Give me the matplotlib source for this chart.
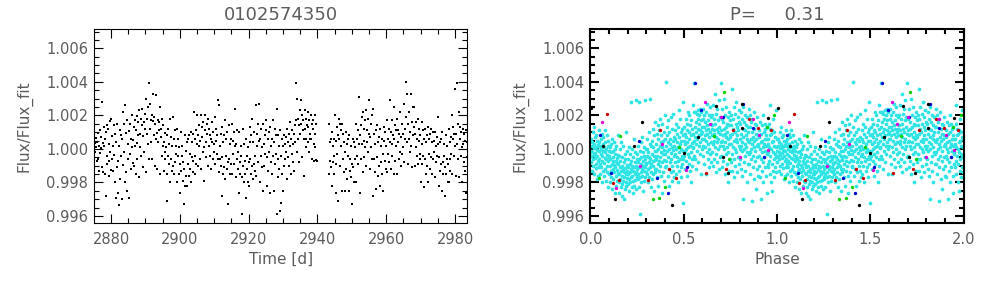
import sys
import matplotlib
matplotlib.use("Agg")
import matplotlib.pyplot as plt
import numpy as np
from matplotlib.ticker import MultipleLocator, FormatStrFormatter

# ---------------- data ----------------
title_left = "0102574350"
title_right = "P=     0.31"

# Left panel: time [d] and flux deviation (units of 1e-5, flux = 1 + v*1e-5)
time_left = [
    2875.12, 2875.26, 2875.40, 2875.54, 2875.68, 2875.82, 2875.96,
    2876.12, 2876.26, 2876.40, 2876.54, 2876.68, 2876.82, 2876.96,
    2877.12, 2877.26, 2877.40, 2877.54, 2877.68, 2877.82, 2877.96,
    2878.12, 2878.26, 2878.40, 2878.54, 2878.68, 2878.82, 2878.96,
    2879.12, 2879.26, 2879.40, 2879.54, 2879.68, 2879.82, 2879.96,
    2880.12, 2880.26, 2880.40, 2880.54, 2880.68, 2880.82, 2880.96,
    2881.12, 2881.26, 2881.40, 2881.54, 2881.68, 2881.82, 2881.96,
    2882.12, 2882.26, 2882.40, 2882.54, 2882.68, 2882.82, 2882.96,
    2883.12, 2883.26, 2883.40, 2883.54, 2883.68, 2883.82, 2883.96,
    2884.12, 2884.26, 2884.40, 2884.54, 2884.68, 2884.82, 2884.96,
    2885.12, 2885.26, 2885.40, 2885.54, 2885.68, 2885.82, 2885.96,
    2886.12, 2886.26, 2886.40, 2886.54, 2886.68, 2886.82, 2886.96,
    2887.12, 2887.26, 2887.40, 2887.54, 2887.68, 2887.82, 2887.96,
    2888.12, 2888.26, 2888.40, 2888.54, 2888.68, 2888.82, 2888.96,
    2889.12, 2889.26, 2889.40, 2889.54, 2889.68, 2889.82, 2889.96,
    2890.12, 2890.26, 2890.40, 2890.54, 2890.68, 2890.82, 2890.96,
    2891.12, 2891.26, 2891.40, 2891.54, 2891.68, 2891.82, 2891.96,
    2892.12, 2892.26, 2892.40, 2892.54, 2892.68, 2892.82, 2892.96,
    2893.12, 2893.26, 2893.40, 2893.54, 2893.68, 2893.82, 2893.96,
    2894.12, 2894.26, 2894.40, 2894.54, 2894.68, 2894.82, 2894.96,
    2895.12, 2895.26, 2895.40, 2895.54, 2895.68, 2895.82, 2895.96,
    2896.12, 2896.26, 2896.40, 2896.54, 2896.68, 2896.82, 2896.96,
    2897.12, 2897.26, 2897.40, 2897.54, 2897.68, 2897.82, 2897.96,
    2898.12, 2898.26, 2898.40, 2898.54, 2898.68, 2898.82, 2898.96,
    2899.12, 2899.26, 2899.40, 2899.54, 2899.68, 2899.82, 2899.96,
    2900.12, 2900.26, 2900.40, 2900.54, 2900.68, 2900.82, 2900.96,
    2901.12, 2901.26, 2901.40, 2901.54, 2901.68, 2901.82, 2901.96,
    2902.12, 2902.26, 2902.40, 2902.54, 2902.68, 2902.82, 2902.96,
    2903.12, 2903.26, 2903.40, 2903.54, 2903.68, 2903.82, 2903.96,
    2904.12, 2904.26, 2904.40, 2904.54, 2904.68, 2904.82, 2904.96,
    2905.12, 2905.26, 2905.40, 2905.54, 2905.68, 2905.82, 2905.96,
    2906.12, 2906.26, 2906.40, 2906.54, 2906.68, 2906.82, 2906.96,
    2907.12, 2907.26, 2907.40, 2907.54, 2907.68, 2907.82, 2907.96,
    2908.12, 2908.26, 2908.40, 2908.54, 2908.68, 2908.82, 2908.96,
    2909.12, 2909.26, 2909.40, 2909.54, 2909.68, 2909.82, 2909.96,
    2910.12, 2910.26, 2910.40, 2910.54, 2910.68, 2910.82, 2910.96,
    2911.12, 2911.26, 2911.40, 2911.54, 2911.68, 2911.82, 2911.96,
    2912.12, 2912.26, 2912.40, 2912.54, 2912.68, 2912.82, 2912.96,
    2913.12, 2913.26, 2913.40, 2913.54, 2913.68, 2913.82, 2913.96,
    2914.12, 2914.26, 2914.40, 2914.54, 2914.68, 2914.82, 2914.96,
    2915.12, 2915.26, 2915.40, 2915.54, 2915.68, 2915.82, 2915.96,
    2916.12, 2916.26, 2916.40, 2916.54, 2916.68, 2916.82, 2916.96,
    2917.12, 2917.26, 2917.40, 2917.54, 2917.68, 2917.82, 2917.96,
    2918.12, 2918.26, 2918.40, 2918.54, 2918.68, 2918.82, 2918.96,
    2919.12, 2919.26, 2919.40, 2919.54, 2919.68, 2919.82, 2919.96,
    2920.12, 2920.26, 2920.40, 2920.54, 2920.68, 2920.82, 2920.96,
    2921.12, 2921.26, 2921.40, 2921.54, 2921.68, 2921.82, 2921.96,
    2922.12, 2922.26, 2922.40, 2922.54, 2922.68, 2922.82, 2922.96,
    2923.12, 2923.26, 2923.40, 2923.54, 2923.68, 2923.82, 2923.96,
    2924.12, 2924.26, 2924.40, 2924.54, 2924.68, 2924.82, 2924.96,
    2925.12, 2925.26, 2925.40, 2925.54, 2925.68, 2925.82, 2925.96,
    2926.12, 2926.26, 2926.40, 2926.54, 2926.68, 2926.82, 2926.96,
    2927.12, 2927.26, 2927.40, 2927.54, 2927.68, 2927.82, 2927.96,
    2928.12, 2928.26, 2928.40, 2928.54, 2928.68, 2928.82, 2928.96,
    2929.12, 2929.26, 2929.40, 2929.54, 2929.68, 2929.82, 2929.96,
    2930.12, 2930.26, 2930.40, 2930.54, 2930.68, 2930.82, 2930.96,
    2931.12, 2931.26, 2931.40, 2931.54, 2931.68, 2931.82, 2931.96,
    2932.12, 2932.26, 2932.40, 2932.54, 2932.68, 2932.82, 2932.96,
    2933.12, 2933.26, 2933.40, 2933.54, 2933.68, 2933.82, 2933.96,
    2934.12, 2934.26, 2934.40, 2934.54, 2934.68, 2934.82, 2934.96,
    2935.12, 2935.26, 2935.40, 2935.54, 2935.68, 2935.82, 2935.96,
    2936.12, 2936.26, 2936.40, 2936.54, 2936.68, 2936.82, 2936.96,
    2937.12, 2937.26, 2937.40, 2937.54, 2937.68, 2937.82, 2937.96,
    2938.12, 2938.26, 2938.40, 2938.54, 2938.68, 2938.82, 2938.96,
    2939.05, 2939.17, 2939.29, 2939.41, 2939.53, 2939.65, 2939.77,
    2943.26, 2943.40, 2943.54, 2943.68, 2943.82, 2943.96,
    2944.12, 2944.26, 2944.40, 2944.54, 2944.68, 2944.82, 2944.96,
    2945.12, 2945.26, 2945.40, 2945.54, 2945.68, 2945.82, 2945.96,
    2946.12, 2946.26, 2946.40, 2946.54, 2946.68, 2946.82, 2946.96,
    2947.12, 2947.26, 2947.40, 2947.54, 2947.68, 2947.82, 2947.96,
    2948.12, 2948.26, 2948.40, 2948.54, 2948.68, 2948.82, 2948.96,
    2949.12, 2949.26, 2949.40, 2949.54, 2949.68, 2949.82, 2949.96,
    2950.12, 2950.26, 2950.40, 2950.54, 2950.68, 2950.82, 2950.96,
    2951.12, 2951.26, 2951.40, 2951.54, 2951.68, 2951.82, 2951.96,
    2952.12, 2952.26, 2952.40, 2952.54, 2952.68, 2952.82, 2952.96,
    2953.12, 2953.26, 2953.40, 2953.54, 2953.68, 2953.82, 2953.96,
    2954.12, 2954.26, 2954.40, 2954.54, 2954.68, 2954.82, 2954.96,
    2955.12, 2955.26, 2955.40, 2955.54, 2955.68, 2955.82, 2955.96,
    2956.12, 2956.26, 2956.40, 2956.54, 2956.68, 2956.82, 2956.96,
    2957.12, 2957.26, 2957.40, 2957.54, 2957.68, 2957.82, 2957.96,
    2958.12, 2958.26, 2958.40, 2958.54, 2958.68, 2958.82, 2958.96,
    2959.12, 2959.26, 2959.40, 2959.54, 2959.68, 2959.82, 2959.96,
    2960.12, 2960.26, 2960.40, 2960.54, 2960.68, 2960.82, 2960.96,
    2961.12, 2961.26, 2961.40, 2961.54, 2961.68, 2961.82, 2961.96,
    2962.12, 2962.26, 2962.40, 2962.54, 2962.68, 2962.82, 2962.96,
    2963.12, 2963.26, 2963.40, 2963.54, 2963.68, 2963.82, 2963.96,
    2964.12, 2964.26, 2964.40, 2964.54, 2964.68, 2964.82, 2964.96,
    2965.12, 2965.26, 2965.40, 2965.54, 2965.68, 2965.82, 2965.96,
    2966.12, 2966.26, 2966.40, 2966.54, 2966.68, 2966.82, 2966.96,
    2967.12, 2967.26, 2967.40, 2967.54, 2967.68, 2967.82, 2967.96,
    2968.12, 2968.26, 2968.40, 2968.54, 2968.68, 2968.82, 2968.96,
    2969.12, 2969.26, 2969.40, 2969.54, 2969.68, 2969.82, 2969.96,
    2970.12, 2970.26, 2970.40, 2970.54, 2970.68, 2970.82, 2970.96,
    2971.12, 2971.26, 2971.40, 2971.54, 2971.68, 2971.82, 2971.96,
    2972.12, 2972.26, 2972.40, 2972.54, 2972.68, 2972.82, 2972.96,
    2973.12, 2973.26, 2973.40, 2973.54, 2973.68, 2973.82, 2973.96,
    2974.12, 2974.26, 2974.40, 2974.54, 2974.68, 2974.82, 2974.96,
    2975.12, 2975.26, 2975.40, 2975.54, 2975.68, 2975.82, 2975.96,
    2976.12, 2976.26, 2976.40, 2976.54, 2976.68, 2976.82, 2976.96,
    2977.12, 2977.26, 2977.40, 2977.54, 2977.68, 2977.82, 2977.96,
    2978.12, 2978.26, 2978.40, 2978.54, 2978.68, 2978.82, 2978.96,
    2979.12, 2979.26, 2979.40, 2979.54, 2979.68, 2979.82, 2979.96,
    2980.12, 2980.26, 2980.40, 2980.54, 2980.68, 2980.82, 2980.96,
    2981.12, 2981.26, 2981.40, 2981.54, 2981.68, 2981.82, 2981.96,
    2982.12, 2982.26, 2982.40, 2982.54, 2982.68, 2982.82, 2982.96,
    2983.12, 2983.26, 2983.40, 2983.54, 2983.68, 2983.82, 2983.96,
]
flux_left_e5 = [
    52, 38, -20, 65, 10, -75, 40,
    -60, 95, 20, -130, 110, -25, 5,
    70, -110, 280, 35, -140, 130, 15,
    -150, 60, -280, 100, -40, 145, -90,
    120, -160, 30, -70, 165, -20, -125,
    180, -60, 75, -130, 15, 140, -35,
    -200, 90, -290, 40, -110, 150, -75,
    -260, 20, -332, 115, -180, -45, 80,
    -300, 60, 220, -95, 150, -20, -200,
    260, -140, 95, -250, 170, 30, -60,
    -290, 105, -30, 150, -120, 60, 10,
    200, -85, 55, 130, -100, 20, 170,
    -150, 110, 195, 35, -60, 160, 80,
    230, -170, 90, 10, 180, -40, 140,
    240, -110, 75, 160, -20, 120, 210,
    300, -140, 90, 180, 30, 250, -60,
    390, 120, 270, 40, 175, -60, 200,
    165, 330, 80, 190, -100, 150, 60,
    320, 95, -120, 170, 40, 160, 110,
    250, -150, 70, 120, -40, 180, 20,
    140, -130, 40, -60, 95, -20, 10,
    -310, 80, -150, 120, -40, -90, 30,
    180, -200, -60, 70, -130, 20, -100,
    190, -150, 60, 110, -80, 20, -30,
    -200, 120, -40, 60, -150, 10, -90,
    -260, 100, -130, -40, 20, -190, -80,
    -330, -120, 80, -220, -10, -160, 40,
    -220, 60, -90, -160, 80, -30, -120,
    100, -200, -50, 40, -140, 90, -70,
    220, -150, 60, -40, 110, -90, 30,
    200, -100, 80, 20, 140, -60, 50,
    -120, 200, 70, 130, -20, 160, 10,
    -190, 110, 200, 40, -50, 90, 150,
    180, -100, 20, 120, -40, 80, 60,
    -120, 160, 40, -60, 100, -20, 30,
    190, -90, 50, 120, -30, 80, -60,
    290, -140, 260, 20, -60, 90, -100,
    -280, 130, -50, 40, -150, 80, -110,
    170, -180, -40, 60, -120, 100, -80,
    -330, 140, -60, -150, 30, -90, 60,
    150, -150, 50, -30, 100, -90, 20,
    240, -170, 30, -60, 110, -120, -20,
    -260, 100, -80, -150, 20, -40, -170,
    -390, 120, -100, -200, 30, -70, -150,
    -290, 60, -120, -40, -200, 10, -80,
    -220, 130, -60, 40, -150, 80, -100,
    180, -180, 40, -90, 100, -40, -130,
    260, -160, 90, 20, -80, 150, 50,
    270, -200, 60, -40, 120, -110, 10,
    -250, 150, 30, -100, 80, -30, 110,
    170, -220, -50, 60, -130, 100, -20,
    -260, 130, -80, 20, -150, 60, -40,
    170, -250, 40, -90, 120, -30, 80,
    240, -390, -60, 80, -170, 20, -120,
    -370, 110, -320, -40, 60, -150, 20,
    -250, 80, -100, 30, -60, 70, -20,
    120, -180, 40, -50, 90, -100, 20,
    160, -150, 60, -30, 110, 30, -80,
    90, -130, 140, 40, 390, 170, -20,
    300, 60, 180, -80, 140, 230, 90,
    150, 290, -50, 200, 110, 170, 60,
    -160, 230, 120, 60, 180, 10, 140,
    220, 40, 130, -20, 170, 90, 60,
    200, 60, 150, -60, 120, 170, 30,
    -70, 200, 90, 10, 150, -65, -75,
    -150, 150, -70, 40, -110, 60,
    -220, 100, -80, 20, -150, 60, -40,
    200, -260, 50, -90, 130, -30, 80,
    -310, 180, 60, -100, 150, 20, 110,
    -250, 150, -60, 90, -140, 40, -20,
    -250, 100, -120, 30, -180, -40, 60,
    -250, 80, -130, -60, 20, -170, -90,
    -330, 60, -110, -200, 40, -60, 10,
    150, -200, 60, -40, 110, -90, 30,
    310, -260, 80, 140, -60, 30, 190,
    220, -140, 50, 120, -50, 170, 10,
    230, -100, 110, 40, 180, -20, 90,
    290, -120, 70, 150, 10, 200, -60,
    -280, 240, -60, 90, -140, 30, 110,
    -240, 140, -50, 40, -160, 70, -100,
    -220, 120, -80, 20, -150, 60, -30,
    -250, 130, 50, -70, 100, -120, 20,
    170, -140, 60, -30, 120, -80, 40,
    290, -120, 100, 30, 170, -40, 80,
    250, -150, 60, 140, -70, 110, 20,
    180, -150, 40, 110, -60, 90, -20,
    220, -100, 70, 150, -30, 90, 10,
    270, -80, 120, 60, 190, 400, 40,
    330, -90, 150, 60, 220, 100, -20,
    330, 20, 160, -110, 250, 80, 130,
    250, -100, 90, 10, 160, -40, 60,
    180, -90, 50, 120, -30, 80, -60,
    -200, 160, 30, -90, 110, -40, 60,
    -230, 120, -60, 40, -150, 80, -100,
    -200, 130, -30, 60, -120, 90, -50,
    120, -150, 40, -60, 100, -20, 50,
    -170, 100, 20, -80, 70, -40, 30,
    190, -220, -50, 40, -130, 60, -90,
    -250, 100, -80, -150, 30, -40, -110,
    -280, 80, -150, -60, 20, -200, -90,
    -200, 120, -60, 40, -130, 70, -30,
    200, -150, 60, 130, -40, 90, 20,
    360, -160, 90, 390, 30, 150, -60,
    220, -170, 60, 130, -40, 100, 10,
    -200, 120, 30, -80, 90, -130, 50,
    -260, 110, -50, 40, -150, 60, -90,
]

# Right panel: phase (0-1) and flux deviation (1e-5 units), main (cyan) points
phase_main = [
    .001, .002, .004, .005, .007, .008, .010, .011, .013, .014, .015, .017, .018, .020, .021, .022, .024, .025,
    .027, .028, .029, .031, .032, .034, .035, .036, .038, .039, .041, .042, .043, .045, .046, .047, .048, .049,
    .051, .052, .054, .055, .056, .058, .059, .061, .062, .063, .065, .066, .068, .069, .070, .072, .073, .074,
    .076, .077, .079, .080, .081, .083, .084, .086, .087, .088, .090, .091, .093, .094, .095, .097, .098, .099,
    .100, .102, .103, .105, .106, .107, .109, .110, .112, .113, .114, .116, .117, .119, .120, .121, .123, .124,
    .126, .127, .128, .130, .131, .133, .134, .135, .137, .138, .140, .141, .142, .144, .145, .147, .148, .149,
    .150, .151, .153, .154, .156, .157, .158, .160, .161, .163, .164, .165, .167, .168, .170, .171, .172, .174,
    .175, .177, .178, .179, .181, .182, .184, .185, .186, .188, .189, .191, .192, .193, .195, .196, .198, .199,
    .200, .202, .203, .204, .206, .207, .209, .210, .211, .213, .214, .216, .217, .218, .220, .221, .223, .224,
    .225, .227, .228, .230, .231, .232, .234, .235, .237, .238, .239, .241, .242, .244, .245, .246, .248, .249,
    .250, .252, .253, .255, .256, .257, .259, .260, .262, .263, .264, .266, .267, .269, .270, .271, .273, .274,
    .276, .277, .278, .280, .281, .283, .284, .285, .287, .288, .290, .291, .292, .294, .295, .297, .298, .299,
    .300, .302, .303, .305, .306, .307, .309, .310, .312, .313, .314, .316, .317, .319, .320, .321, .323, .324,
    .326, .327, .328, .330, .331, .333, .334, .335, .337, .338, .340, .341, .342, .344, .345, .347, .348, .349,
    .350, .351, .353, .354, .356, .357, .358, .360, .361, .363, .364, .365, .367, .368, .370, .371, .372, .374,
    .375, .377, .378, .379, .381, .382, .384, .385, .386, .388, .389, .391, .392, .393, .395, .396, .398, .399,
    .400, .402, .403, .404, .406, .407, .409, .410, .411, .413, .414, .416, .417, .418, .420, .421, .423, .424,
    .425, .427, .428, .430, .431, .432, .434, .435, .437, .438, .439, .441, .442, .444, .445, .446, .448, .449,
    .450, .452, .453, .455, .456, .457, .459, .460, .462, .463, .464, .466, .467, .469, .470, .471, .473, .474,
    .476, .477, .478, .480, .481, .483, .484, .485, .487, .488, .490, .491, .492, .494, .495, .497, .498, .499,
    .500, .502, .503, .505, .506, .507, .509, .510, .512, .513, .514, .516, .517, .519, .520, .521, .523, .524,
    .526, .527, .528, .530, .531, .533, .534, .535, .537, .538, .540, .541, .542, .544, .545, .547, .548, .549,
    .550, .552, .553, .554, .556, .557, .559, .560, .561, .563, .564, .566, .567, .568, .570, .571, .573, .574,
    .575, .577, .578, .580, .581, .582, .584, .585, .587, .588, .589, .591, .592, .594, .595, .596, .598, .599,
    .600, .602, .603, .604, .606, .607, .609, .610, .611, .613, .614, .616, .617, .618, .620, .621, .623, .624,
    .625, .627, .628, .630, .631, .632, .634, .635, .637, .638, .639, .641, .642, .644, .645, .646, .648, .649,
    .650, .651, .653, .654, .656, .657, .658, .660, .661, .663, .664, .665, .667, .668, .670, .671, .672, .674,
    .675, .677, .678, .679, .681, .682, .684, .685, .686, .688, .689, .691, .692, .693, .695, .696, .698, .699,
    .700, .702, .703, .705, .706, .707, .709, .710, .712, .713, .714, .716, .717, .719, .720, .721, .723, .724,
    .726, .727, .728, .730, .731, .733, .734, .735, .737, .738, .740, .741, .742, .744, .745, .747, .748, .749,
    .750, .752, .753, .754, .756, .757, .759, .760, .761, .763, .764, .766, .767, .768, .770, .771, .773, .774,
    .775, .777, .778, .780, .781, .782, .784, .785, .787, .788, .789, .791, .792, .794, .795, .796, .798, .799,
    .800, .802, .803, .805, .806, .807, .809, .810, .812, .813, .814, .816, .817, .819, .820, .821, .823, .824,
    .826, .827, .828, .830, .831, .833, .834, .835, .837, .838, .840, .841, .842, .844, .845, .847, .848, .849,
    .850, .851, .853, .854, .856, .857, .858, .860, .861, .863, .864, .865, .867, .868, .870, .871, .872, .874,
    .875, .877, .878, .879, .881, .882, .884, .885, .886, .888, .889, .891, .892, .893, .895, .896, .898, .899,
    .900, .902, .903, .905, .906, .907, .909, .910, .912, .913, .914, .916, .917, .919, .920, .921, .923, .924,
    .926, .927, .928, .930, .931, .933, .934, .935, .937, .938, .940, .941, .942, .944, .945, .947, .948, .949,
    .950, .951, .953, .954, .956, .957, .958, .960, .961, .963, .964, .965, .967, .968, .970, .971, .972, .974,
    .975, .977, .978, .979, .981, .982, .984, .985, .986, .988, .989, .991, .992, .993, .995, .996, .998, .999,
]
flux_main_e5 = [
    -10, -80, 60, -40, 20, -130, -20, 40, -60, 100, -100, 5, -35, 130, -150, 30, -55, 70,
    -25, -90, 10, 85, -115, -5, -180, 50, -45, 20, -70, 25, -160, -15, 40, -105, 110, -60,
    -90, 20, -150, -30, 60, -110, 0, -70, 90, -200, -45, 30, -130, -10, 70, -85, -160, 10,
    -55, 110, -120, -20, 40, -190, -60, 0, -100, 80, -35, -140, 20, -75, 50, -230, -15, -50,
    -40, -150, 10, -100, -200, -60, 30, -130, -20, -170, -90, 60, -240, -75, -120, -10, -180, -50,
    40, -140, -95, -260, -30, -110, 0, -160, -70, -220, 20, -125, -55, -190, -85, 80, -145, -35,
    -90, -200, -40, -150, -260, -110, 0, -180, -70, -230, -130, 40, -280, -100, -160, -50, -210, -120,
    20, -190, -140, -300, -80, -170, -30, -240, -115, -60, -200, -150, 100, -220, -95, -10, -175, -130,
    -150, -60, -210, -110, 10, -180, -250, -90, -140, -30, -200, 280, -120, -170, -70, -230, -100, -160,
    0, -260, -130, -50, -190, -110, 60, -220, -80, -150, -20, -185, 290, -135, -240, -100, -60, -170,
    -120, -30, -180, -80, 20, -150, -230, -60, 280, -110, -10, -170, -390, -90, -140, 40, -200, -50,
    -120, 70, -160, -20, -100, -250, -75, 10, -130, -190, -40, 290, -105, -165, -60, 0, -140, -85,
    -90, 0, -150, -40, 60, -120, -200, -20, -80, 100, -170, -50, 30, -110, 300, -60, -140, 20,
    -230, -90, 50, -30, -180, -70, 120, -100, 10, -150, -45, -250, 80, -120, -10, 160, -65, -135,
    -60, 30, -120, -10, 90, -170, -40, 60, -90, 140, -220, 0, -70, 110, -130, 20, -50, 180,
    -100, 40, -160, -20, 80, -260, 10, -80, 150, -30, -140, 50, 100, -190, -5, -65, 200, -110,
    -30, 60, -100, 20, 400, -70, 130, -440, -10, 80, -160, 40, -50, 170, -120, 0, 100, -220,
    30, -80, 60, -140, 190, -25, -60, 120, -190, 10, -100, 50, -5, 210, -130, 70, -40, -170,
    20, -80, 110, -30, 60, -150, 0, 150, -100, 40, -50, 90, -200, 10, 130, -70, 230, -20,
    70, -130, 30, -60, 180, -110, 0, 100, -170, 50, -40, 120, -90, 280, -10, -320, 80, -60,
    50, -40, 130, -10, 90, -120, 30, 180, -70, 70, 0, 150, -160, 40, 110, -30, 220, 10,
    -90, 100, 60, -50, 200, -130, 20, 140, -20, 80, -200, 170, 35, -60, 120, -100, 260, 5,
    90, 10, 220, 50, 390, -40, 130, 70, 220, -60, 160, 30, 100, -120, 210, 60, -10, 180,
    120, 230, -80, 80, 150, 20, 200, -30, 110, 240, 40, 170, -150, 90, 220, 0, 130, 60,
    100, 20, 180, -40, 240, 60, 130, -90, 200, 80, 10, 160, -150, 110, 50, 220, -20, 140,
    90, 270, -60, 170, 30, 120, -110, 200, 70, 0, 250, 100, -30, 150, 40, 190, -80, 120,
    80, 200, -20, 140, 30, 260, -100, 110, 50, 180, -60, 90, 330, 10, 150, -140, 70, 210,
    -30, 120, 40, 240, -80, 100, 170, 0, 60, 290, -120, 130, 20, 190, -50, 90, 390, 40,
    110, -40, 180, 50, 240, -110, 80, 20, 160, -70, 120, 300, 0, 90, -150, 200, 40, 130,
    -30, 70, 250, -90, 150, 10, 100, -200, 190, 60, -20, 140, 30, 220, -130, 80, 170, -60,
    70, -80, 200, 30, 140, -30, 360, 90, -130, 180, 10, 120, -60, 250, 50, -170, 100, 0,
    210, -100, 150, 60, -20, 280, 40, 130, -140, 80, 190, -50, 110, 20, 230, -90, 160, 0,
    60, -60, 150, 20, 220, -120, 90, -10, 180, 40, -160, 120, -300, 70, 250, 0, -80, 160,
    30, 110, -40, 200, -130, 80, 10, 140, -200, 60, -20, 190, 100, -90, 50, 130, -30, 240,
    40, -90, 130, -20, 200, -150, 60, 0, 160, -60, 100, -310, 30, 180, -110, 70, -40, 220,
    10, -180, 120, 50, -70, 150, -10, 90, -240, 60, 140, -120, 20, 190, -50, 80, -160, 30,
    20, -100, 110, -40, 70, -170, 0, 160, -60, 40, -300, 90, -20, 140, -130, 50, -80, 200,
    10, -200, 100, 30, -50, 150, -110, 60, -10, 120, -160, 80, 20, -260, 130, -30, 60, -90,
    -20, 60, -110, 30, 150, -70, 10, 260, -150, 80, -40, 120, -200, 0, 90, -90, 40, -250,
    110, -20, 50, -130, 180, -60, 20, -170, 100, -30, 70, -110, 230, -50, 10, -140, 60, -80,
]

# Right panel: highlighted points (phase, flux deviation 1e-5, colour)
phase_hl = [0.089, 0.120, 0.152, 0.310, 0.375, 0.423, 0.459, 0.620, 0.727, 0.762, 0.852, 0.896, 0.968,
            0.045, 0.159, 0.334, 0.370, 0.402, 0.473, 0.664, 0.714, 0.745, 0.945, 0.986,
            0.054, 0.110, 0.259, 0.355, 0.418, 0.518, 0.561, 0.593, 0.709, 0.820, 0.870, 0.932,
            0.062, 0.137, 0.266, 0.384, 0.512, 0.616, 0.643, 0.700, 0.800, 0.870, 0.905, 0.950,
            0.070, 0.132, 0.232, 0.277, 0.437, 0.500, 0.575, 0.673, 0.709, 0.739, 0.811, 0.811, 0.950, 0.003]
flux_hl_e5 = [208, -202, -186, -186, 114, -122, -176, -146, -122, 114, 178, 124, 110,
              -172, 74, -300, -292, -226, 14, 78, 340, -62, 130, 200,
              84, -146, 50, -172, -260, -106, 394, 234, 190, 268, 124, -46,
              158, -232, -102, 30, -126, 280, 150, 190, -46, 180, 84, -6,
              20, -296, 20, 158, -336, -26, 68, 258, -46, -146, 268, 124, 184, 244]
color_hl = ["red"] * 13 + ["green"] * 11 + ["blue"] * 12 + ["magenta"] * 12 + ["black"] * 14

# ---------------- plotting ----------------
n = min(len(time_left), len(flux_left_e5))
if len(time_left) != len(flux_left_e5):
    print("left length mismatch", len(time_left), len(flux_left_e5), file=sys.stderr)
t_left = np.array(time_left[:n])
f_left = 1.0 + np.array(flux_left_e5[:n]) * 1e-5

m = min(len(phase_main), len(flux_main_e5))
if len(phase_main) != len(flux_main_e5):
    print("main length mismatch", len(phase_main), len(flux_main_e5), file=sys.stderr)
ph = np.array(phase_main[:m])
f_main = 1.0 + np.array(flux_main_e5[:m]) * 1e-5

k = min(len(phase_hl), len(flux_hl_e5), len(color_hl))
ph_hl = np.array(phase_hl[:k])
f_hl = 1.0 + np.array(flux_hl_e5[:k]) * 1e-5
c_hl = color_hl[:k]
cmap = {"red": "#c80000", "green": "#00d200", "blue": "#0000d2",
        "magenta": "#dc00dc", "black": "#000000"}

plt.rcParams['font.family'] = ['DejaVu Sans']
TXT = "#5c5c5c"

fig = plt.figure(figsize=(9.92, 2.83), dpi=100)
ax1 = fig.add_axes([0.0951, 0.2131, 0.3760, 0.6827])
ax2 = fig.add_axes([0.5951, 0.2131, 0.3764, 0.6827])

ax1.plot(t_left, f_left, linestyle="none", marker="s", ms=1.75, mew=0, color="black")

MS = 2.7
ax2.plot(ph, f_main, linestyle="none", marker="o", ms=MS, mew=0, color="#2ee4e4")
ax2.plot(ph + 1.0, f_main, linestyle="none", marker="o", ms=MS, mew=0, color="#2ee4e4")
for name in ["red", "green", "blue", "magenta", "black"]:
    sel = np.array([c == name for c in c_hl])
    ax2.plot(ph_hl[sel], f_hl[sel], linestyle="none", marker="o", ms=2.4, mew=0, color=cmap[name])
    ax2.plot(ph_hl[sel] + 1.0, f_hl[sel], linestyle="none", marker="o", ms=2.4, mew=0, color=cmap[name])

ylim = (0.99560, 1.00712)
for ax, lw in ((ax1, 0.8), (ax2, 1.5)):
    ax.set_ylim(*ylim)
    ax.yaxis.set_major_locator(MultipleLocator(0.002))
    ax.yaxis.set_minor_locator(MultipleLocator(0.0005))
    ax.yaxis.set_major_formatter(FormatStrFormatter("%.3f"))
    for s in ax.spines.values():
        s.set_linewidth(lw)
    ax.tick_params(which="both", direction="in", top=True, right=True,
                   width=lw, labelcolor=TXT, labelsize=10.5)
    ax.tick_params(which="major", length=6.5)
    ax.tick_params(which="minor", length=3.5)
    ax.tick_params(axis="x", which="both", pad=7)
    ax.tick_params(axis="y", which="both", pad=4.5)
    ax.set_ylabel("Flux/Flux_fit", color=TXT, fontsize=11)
    ax.yaxis.set_label_coords(-0.165, 0.5)
    ax.xaxis.set_label_coords(0.5, -0.15)

ax1.set_xlim(2875.14, 2983.58)
ax1.xaxis.set_major_locator(MultipleLocator(20))
ax1.xaxis.set_minor_locator(MultipleLocator(5))
ax1.xaxis.set_major_formatter(FormatStrFormatter("%d"))
ax1.set_xlabel("Time [d]", color=TXT, fontsize=11)
ax1.set_title(title_left, color=TXT, fontsize=13, pad=7)

ax2.set_xlim(0.0, 2.0)
ax2.xaxis.set_major_locator(MultipleLocator(0.5))
ax2.xaxis.set_minor_locator(MultipleLocator(0.1))
ax2.xaxis.set_major_formatter(FormatStrFormatter("%.1f"))
ax2.set_xlabel("Phase", color=TXT, fontsize=11)
ax2.set_title(title_right, color=TXT, fontsize=13, pad=7)

fig.savefig("out.png", dpi=100)
